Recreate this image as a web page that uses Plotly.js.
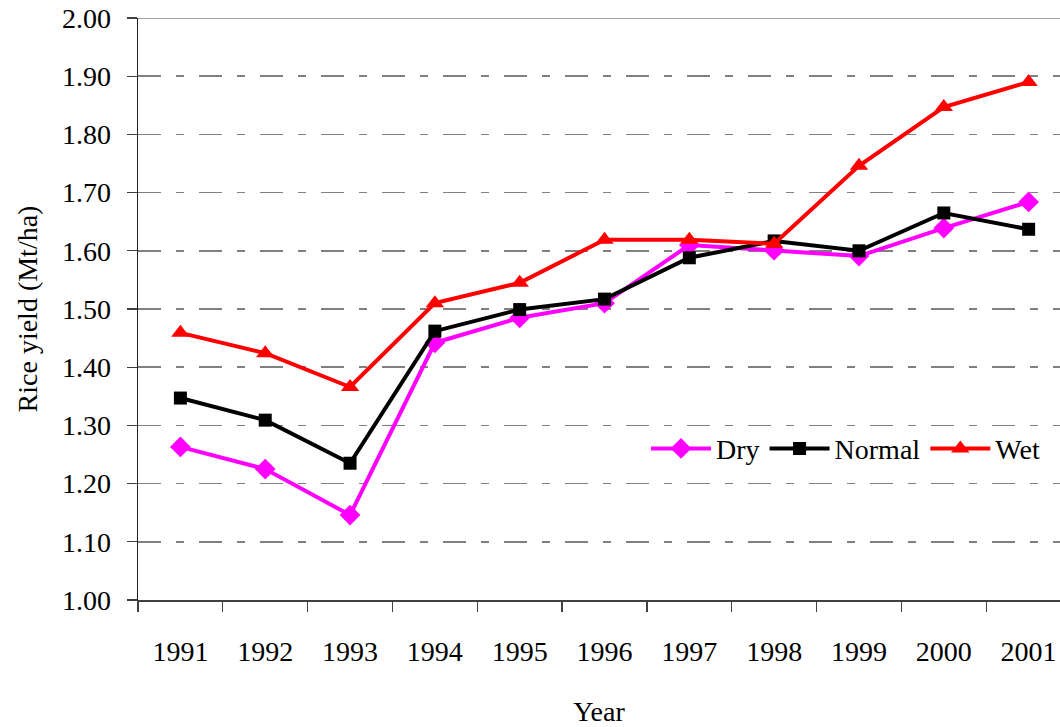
<!DOCTYPE html>
<html>
<head>
<meta charset="utf-8">
<script src="https://cdn.plot.ly/plotly-3.0.1.min.js"></script>
<style>html,body{margin:0;padding:0;background:#fff;}#chart{width:1060px;height:727px;}</style>
</head>
<body>
<div id="chart"></div>
<script>
const years = ['1991','1992','1993','1994','1995','1996','1997','1998','1999','2000','2001'];
const dry    = [1.263, 1.225, 1.146, 1.442, 1.485, 1.510, 1.610, 1.601, 1.591, 1.639, 1.684];
const normal = [1.347, 1.309, 1.235, 1.462, 1.499, 1.517, 1.588, 1.617, 1.600, 1.665, 1.637];
const wet    = [1.459, 1.424, 1.366, 1.510, 1.545, 1.619, 1.619, 1.612, 1.746, 1.847, 1.890];
const yTicks = [1.0, 1.1, 1.2, 1.3, 1.4, 1.5, 1.6, 1.7, 1.8, 1.9, 2.0];

const font = "Liberation Serif, Times New Roman, serif";
const fs = 28;

const traces = [
  {x: years, y: dry, name: 'Dry', type: 'scatter', mode: 'lines+markers',
   line: {color: '#FF00FF', width: 4}, marker: {symbol: 'diamond', size: 16, color: '#FF00FF'}},
  {x: years, y: normal, name: 'Normal', type: 'scatter', mode: 'lines+markers',
   line: {color: '#000000', width: 4}, marker: {symbol: 'square', size: 13, color: '#000000'}},
  {x: years, y: wet, name: 'Wet', type: 'scatter', mode: 'lines+markers',
   line: {color: '#FF0000', width: 4}, marker: {symbol: 'triangle-up', size: 16, color: '#FF0000'}}
];

const layout = {
  width: 1060, height: 727,
  margin: {l: 138, r: 0, t: 18, b: 127},
  paper_bgcolor: '#ffffff', plot_bgcolor: '#ffffff',
  font: {family: font, size: fs, color: '#000'},
  showlegend: true,
  legend: {orientation: 'h', x: 0.551, y: 0.26, xanchor: 'left', yanchor: 'middle',
           bgcolor: 'rgba(0,0,0,0)', font: {family: font, size: fs, color: '#000'},
           itemwidth: 60, tracegroupgap: 0},
  xaxis: {
    type: 'category', range: [-0.5, 10.37],
    tickson: 'boundaries', ticks: 'outside', ticklen: 10, tickcolor: '#404040', tickwidth: 1.3,
    showline: true, linecolor: '#404040', linewidth: 1.5,
    showgrid: false, zeroline: false,
    ticklabelstandoff: 26,
    tickfont: {family: font, size: fs, color: '#000'},
    title: {text: 'Year', font: {family: font, size: fs, color: '#000'}, standoff: 40}
  },
  yaxis: {
    range: [1.0, 2.0], tickvals: yTicks, ticktext: yTicks.map(v => v.toFixed(2)),
    ticks: 'outside', ticklen: 10, tickcolor: '#404040', tickwidth: 1.3,
    showline: true, linecolor: '#202020', linewidth: 1.5,
    showgrid: true, gridcolor: '#808080', gridwidth: 1.5, griddash: '23px,15px,8px,15px',
    zeroline: false,
    ticklabelstandoff: 10,
    tickfont: {family: font, size: fs, color: '#000'},
    title: {text: 'Rice yield (Mt/ha)', font: {family: font, size: fs, color: '#000'}, standoff: 16}
  },
  shapes: [
    {type: 'line', xref: 'paper', yref: 'y', x0: 0, x1: 1, y0: 2.0, y1: 2.0,
     line: {color: '#808080', width: 1.5}}
  ]
};

Plotly.newPlot('chart', traces, layout, {displayModeBar: false, staticPlot: true});
</script>
</body>
</html>
